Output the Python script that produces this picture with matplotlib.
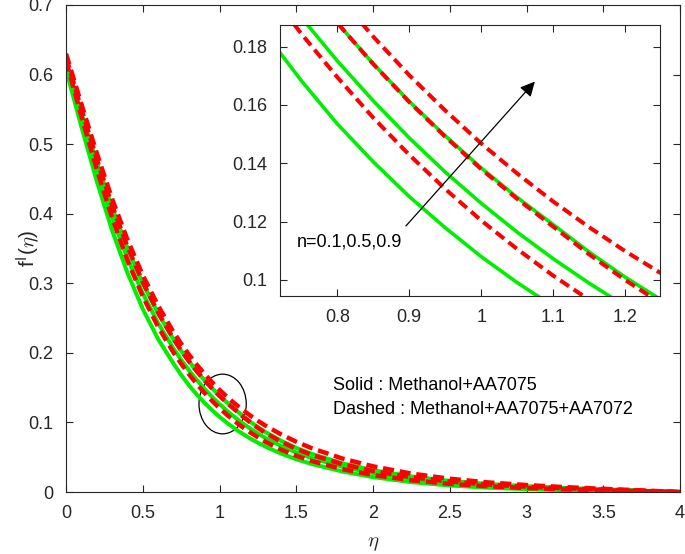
import matplotlib
matplotlib.use("Agg")
import matplotlib.pyplot as plt
from matplotlib.patches import Ellipse

# -----------------------------
# datos
# -----------------------------
eta = [0.0, 0.1, 0.2, 0.3, 0.4, 0.5, 0.6,
       0.7, 0.75, 0.8, 0.85, 0.9, 0.95, 1.0, 1.05, 1.1, 1.15, 1.2, 1.25, 1.3,
       1.4, 1.5, 1.6, 1.8, 2.0, 2.25, 2.5, 2.75, 3.0, 3.25, 3.5, 3.75, 4.0]

# Solid : Methanol+AA7075  (n = 0.1, 0.5, 0.9)
solid_n01 = [0.607, 0.525, 0.447, 0.376, 0.315, 0.263, 0.2197,
             0.1845, 0.1683, 0.1535, 0.1405, 0.1286, 0.1179, 0.1080, 0.0991, 0.0910,
             0.0837, 0.0769, 0.0708, 0.0651,
             0.0553, 0.0471, 0.0403, 0.0295, 0.0214, 0.0142, 0.0094, 0.0062, 0.0041,
             0.0027, 0.0017, 0.0008, 0.0]
solid_n05 = [0.612, 0.5358, 0.4626, 0.3950, 0.3359, 0.2854, 0.2425,
             0.2062, 0.1900, 0.1751, 0.1614, 0.1487, 0.1370, 0.1263, 0.1164, 0.1073,
             0.0989, 0.0911, 0.0840, 0.0774,
             0.0662, 0.0568, 0.0488, 0.0363, 0.0273, 0.0191, 0.0135, 0.0096, 0.0069,
             0.0048, 0.0032, 0.0016, 0.0]
solid_n09 = [0.617, 0.5445, 0.4743, 0.4090, 0.3507, 0.3000, 0.2567,
             0.2196, 0.2032, 0.1881, 0.1741, 0.1612, 0.1494, 0.1384, 0.1283, 0.1190,
             0.1096, 0.1010, 0.0932, 0.0860,
             0.0737, 0.0634, 0.0548, 0.0412, 0.0313, 0.0223, 0.0160, 0.0115, 0.0083,
             0.0058, 0.0038, 0.0019, 0.0]

# Dashed : Methanol+AA7075+AA7072
dash_n01 = [0.620, 0.5401, 0.4639, 0.3941, 0.3328, 0.2810, 0.2372,
            0.2005, 0.1844, 0.1695, 0.1556, 0.1429, 0.1312, 0.1204, 0.1106, 0.1015,
            0.0932, 0.0856, 0.0786, 0.0721,
            0.0611, 0.0521, 0.0446, 0.0329, 0.0244, 0.0169, 0.0117, 0.0082, 0.0057,
            0.0039, 0.0025, 0.0012, 0.0]
dash_n05 = [0.625, 0.5504, 0.4785, 0.4119, 0.3527, 0.3015, 0.2577,
            0.2201, 0.2034, 0.1881, 0.1740, 0.1610, 0.1491, 0.1380, 0.1278, 0.1183,
            0.1088, 0.1000, 0.0920, 0.0847,
            0.0724, 0.0621, 0.0535, 0.0400, 0.0302, 0.0213, 0.0151, 0.0108, 0.0077,
            0.0054, 0.0036, 0.0018, 0.0]
dash_n09 = [0.630, 0.5576, 0.4872, 0.4214, 0.3627, 0.3116, 0.2677,
            0.2299, 0.2132, 0.1977, 0.1834, 0.1702, 0.1581, 0.1468, 0.1365, 0.1269,
            0.1181, 0.1099, 0.1023, 0.0953,
            0.0829, 0.0722, 0.0630, 0.0481, 0.0369, 0.0265, 0.0191, 0.0138, 0.0100,
            0.0070, 0.0046, 0.0023, 0.0]

xticks_main = [0, 0.5, 1, 1.5, 2, 2.5, 3, 3.5, 4]
xlabels_main = ["0", "0.5", "1", "1.5", "2", "2.5", "3", "3.5", "4"]
yticks_main = [0, 0.1, 0.2, 0.3, 0.4, 0.5, 0.6, 0.7]
ylabels_main = ["0", "0.1", "0.2", "0.3", "0.4", "0.5", "0.6", "0.7"]

xticks_in = [0.8, 0.9, 1.0, 1.1, 1.2]
xlabels_in = ["0.8", "0.9", "1", "1.1", "1.2"]
yticks_in = [0.10, 0.12, 0.14, 0.16, 0.18]
ylabels_in = ["0.1", "0.12", "0.14", "0.16", "0.18"]

solidas = [solid_n01, solid_n05, solid_n09]
punteadas = [dash_n01, dash_n05, dash_n09]

# -----------------------------
# estilo
# -----------------------------
plt.rcParams['font.family'] = ['Liberation Sans', 'DejaVu Sans']
plt.rcParams['mathtext.fontset'] = 'cm'
verde = '#00ee00'
rojo = '#ff0000'
gris = '#262626'
fs = 13


def estilo_ejes(ax):
    for s in ax.spines.values():
        s.set_color(gris)
        s.set_linewidth(0.8)
    ax.tick_params(direction='in', top=True, right=True, length=5,
                   width=0.8, color=gris, labelsize=fs, labelcolor=gris, pad=9)


fig = plt.figure(figsize=(6.85, 5.54), dpi=100)

# -----------------------------
# grafica principal
# -----------------------------
ax = fig.add_axes([0.0964, 0.1119, 0.8964, 0.8791])
for y in solidas:
    ax.plot(eta, y, color=verde, lw=2.9, solid_capstyle='butt')
for y in punteadas:
    ax.plot(eta, y, color=rojo, lw=3.2, dashes=(2.5, 1.3))

ax.add_patch(Ellipse((1.02, 0.1265), 0.308, 0.0858, fill=False, ec='k', lw=0.9))

ax.set_xlim(0, 4)
ax.set_ylim(0, 0.7)
ax.set_xticks(xticks_main)
ax.set_xticklabels(xlabels_main)
ax.set_yticks(yticks_main)
ax.set_yticklabels(ylabels_main)
estilo_ejes(ax)
ax.set_xlabel(r'$\eta$', fontsize=15, color=gris, va='center')
ax.xaxis.set_label_coords(0.5, -0.105)
ax.set_ylabel(r'f$^{\mathsf{I}}$($\eta$)', fontsize=15, color=gris, va='center')
ax.yaxis.set_label_coords(-0.060, 0.5)

ax.text(1.74, 0.1538, 'Solid : Methanol+AA7075', fontsize=fs, color='k', va='center')
ax.text(1.74, 0.119, 'Dashed : Methanol+AA7075+AA7072', fontsize=fs, color='k', va='center')

# -----------------------------
# recuadro ampliado
# -----------------------------
axi = fig.add_axes([0.4088, 0.4657, 0.5547, 0.4892])
for y in solidas:
    axi.plot(eta, y, color=verde, lw=2.6, solid_capstyle='butt')
for y in punteadas:
    axi.plot(eta, y, color=rojo, lw=2.9, dashes=(2.6, 1.4))

axi.set_xlim(0.7204, 1.2486)
axi.set_ylim(0.0945, 0.1874)
axi.set_xticks(xticks_in)
axi.set_xticklabels(xlabels_in)
axi.set_yticks(yticks_in)
axi.set_yticklabels(ylabels_in)
estilo_ejes(axi)

axi.annotate('', xy=(1.0746, 0.168), xytext=(0.8954, 0.1185),
             arrowprops=dict(arrowstyle='-|>', color='k', lw=0.9,
                             mutation_scale=22, shrinkA=0, shrinkB=0))
axi.text(0.7444, 0.1131, 'n=0.1,0.5,0.9', fontsize=fs, color='k', va='center')

fig.savefig('out.png', dpi=100)
